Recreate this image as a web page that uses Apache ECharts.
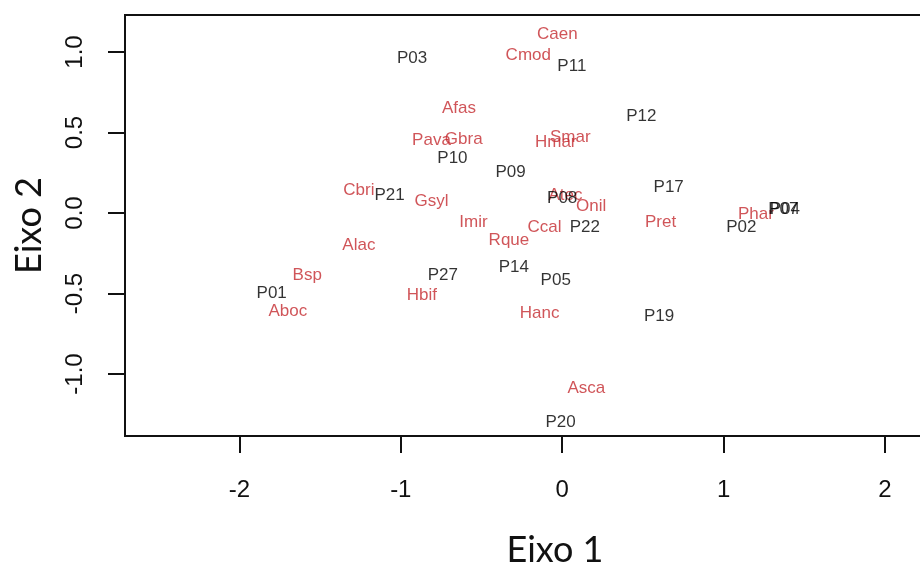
<!DOCTYPE html>
<html>
<head>
<meta charset="utf-8">
<script src="https://cdn.jsdelivr.net/npm/echarts@6/dist/echarts.min.js"></script>
<style>
  html, body { margin: 0; padding: 0; background: #fff; overflow: hidden; }
  #chart { width: 1000px; height: 579px; }
</style>
</head>
<body>
<div id="chart"></div>
<script>
// sites (black labels)
var siteNames = ['P01', 'P02', 'P03', 'P04', 'P05', 'P07', 'P08', 'P09', 'P10', 'P11', 'P12', 'P14', 'P17', 'P19', 'P20', 'P21', 'P22', 'P27'];
var siteX = [-1.80, 1.11, -0.93, 1.38, -0.04, 1.37, 0.00, -0.32, -0.68, 0.06, 0.49, -0.30, 0.66, 0.60, -0.01, -1.07, 0.14, -0.74];
var siteY = [-0.50, -0.09, 0.96, 0.02, -0.42, 0.02, 0.09, 0.25, 0.34, 0.91, 0.60, -0.34, 0.16, -0.64, -1.30, 0.11, -0.09, -0.39];

// species (red labels)
var spNames = ['Caen', 'Cmod', 'Afas', 'Pava', 'Gbra', 'Smar', 'Hmar', 'Cbri', 'Gsyl', 'Atec', 'Onil', 'Imir', 'Ccal', 'Rque', 'Pret', 'Phar', 'Alac', 'Bsp', 'Hbif', 'Aboc', 'Hanc', 'Asca'];
var spX = [-0.03, -0.21, -0.64, -0.81, -0.61, 0.05, -0.04, -1.26, -0.81, 0.02, 0.18, -0.55, -0.11, -0.33, 0.61, 1.20, -1.26, -1.58, -0.87, -1.70, -0.14, 0.15];
var spY = [1.11, 0.98, 0.65, 0.45, 0.46, 0.47, 0.44, 0.14, 0.07, 0.11, 0.04, -0.06, -0.09, -0.17, -0.06, -0.01, -0.20, -0.39, -0.51, -0.61, -0.62, -1.09];

var xTicks = [-2, -1, 0, 1, 2];
var yTicks = [-1.0, -0.5, 0.0, 0.5, 1.0];

var toPoints = function(names, xs, ys){
    return names.map(function(n, i){ return [xs[i], ys[i], n]; });
};

// plot region runs past the right edge of the window, like the cropped original
var myChart = echarts.init(document.getElementById('chart'));

var labelSeries = function(data, color){
    return {
        type: 'scatter',
        data: data,
        symbolSize: 1,
        itemStyle: { color: 'rgba(0,0,0,0)' },
        silent: true,
        label: {
            show: true,
            position: 'inside',
            formatter: function(p){ return p.data[2]; },
            color: color,
            fontFamily: 'Liberation Sans',
            fontSize: 17
        }
    };
};

var option = {
    animation: false,
    backgroundColor: '#fff',
    grid: {
        left: 125,
        top: 15,
        right: 15,
        bottom: 143,
        show: true,
        borderColor: '#111',
        borderWidth: 2,
        backgroundColor: 'transparent'
    },
    xAxis: {
        type: 'value',
        min: -2.709,
        max: 2.62,
        name: 'Eixo 1',
        nameLocation: 'middle',
        nameGap: 96,
        nameTextStyle: { fontFamily: 'Lato', fontSize: 36, color: '#111' },
        splitLine: { show: false },
        axisLine: { show: false, onZero: false },
        axisTick: {
            show: true,
            length: 17,
            customValues: xTicks,
            lineStyle: { color: '#111', width: 2 }
        },
        axisLabel: {
            customValues: xTicks,
            margin: 42,
            fontFamily: 'Liberation Sans',
            fontSize: 24,
            color: '#111'
        }
    },
    yAxis: {
        type: 'value',
        min: -1.385,
        max: 1.23,
        name: 'Eixo 2',
        nameLocation: 'middle',
        nameRotate: 90,
        nameGap: 78,
        nameTextStyle: { fontFamily: 'Lato', fontSize: 36, color: '#111' },
        splitLine: { show: false },
        axisLine: { show: false, onZero: false },
        axisTick: {
            show: true,
            length: 17,
            customValues: yTicks,
            lineStyle: { color: '#111', width: 2 }
        },
        axisLabel: {
            customValues: yTicks,
            rotate: 90,
            margin: 38,
            formatter: function(v){ return v.toFixed(1); },
            fontFamily: 'Liberation Sans',
            fontSize: 24,
            color: '#111'
        }
    },
    series: [
        labelSeries(toPoints(spNames, spX, spY), '#c42a30'),
        labelSeries(toPoints(siteNames, siteX, siteY), '#000')
    ]
};

myChart.setOption(option);
</script>
</body>
</html>
